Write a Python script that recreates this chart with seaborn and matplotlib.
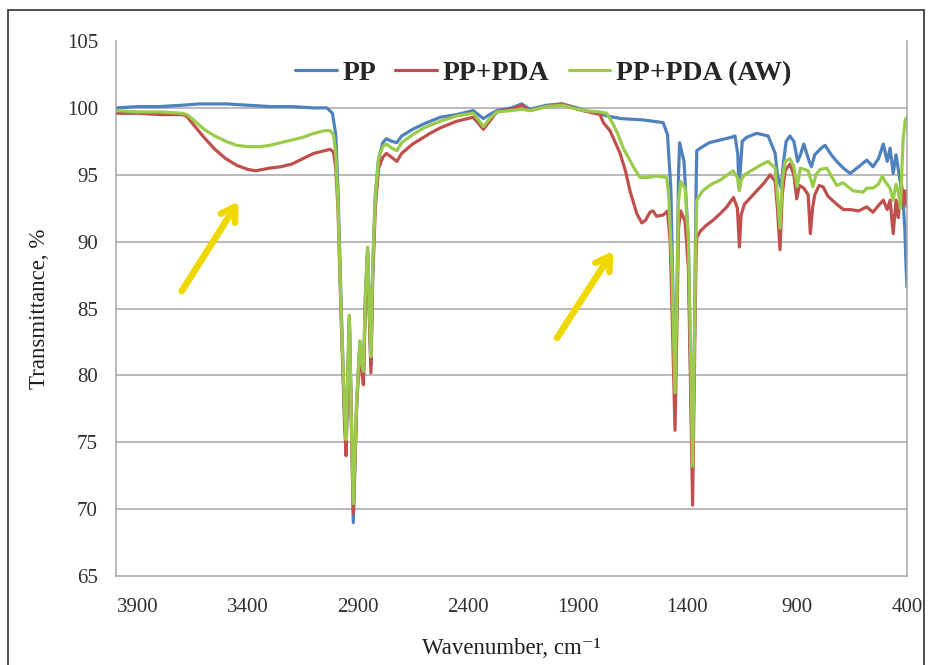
# FTIR spectra of PP, PP+PDA and PP+PDA (AW)
import pandas as pd
import matplotlib.pyplot as plt
import seaborn as sns
from matplotlib.patches import Rectangle

# PP (blue)
pp_wn = [4000, 3900, 3800, 3700, 3620, 3500, 3400, 3300, 3200, 3100, 3040, 3015, 3000, 2990,
         2975, 2960, 2953, 2945, 2938, 2930, 2920, 2905, 2890, 2880, 2874, 2865, 2855, 2848,
         2840, 2832, 2820, 2805, 2786, 2770, 2745, 2722, 2700, 2650, 2600, 2525, 2450, 2374,
         2328, 2300, 2267, 2200, 2154, 2117, 2040, 1971, 1900, 1873, 1800, 1767, 1700, 1600,
         1510, 1490, 1475, 1465, 1456, 1447, 1440, 1435, 1415, 1395, 1385, 1376, 1368, 1360,
         1357, 1340, 1300, 1251, 1200, 1183, 1170, 1165, 1158, 1150, 1130, 1084, 1032, 1000,
         990, 973, 962, 950, 933, 915, 898, 885, 870, 845, 835, 820, 790, 773, 745, 720, 690,
         659, 620, 583, 555, 530, 508, 490, 477, 463, 450, 432, 420, 410, 404, 400]
pp_t = [100.0, 100.1, 100.1, 100.2, 100.3, 100.3, 100.2, 100.1, 100.1, 100.0, 100.0, 99.6, 98.0, 94.0,
        85.0, 77.0, 74.5, 80.0, 84.3, 78.0, 69.0, 78.0, 82.5, 80.5, 80.0, 86.0, 89.5, 85.0,
        80.8, 88.0, 93.5, 96.2, 97.4, 97.7, 97.5, 97.4, 97.9, 98.4, 98.8, 99.3, 99.5, 99.8,
        99.2, 99.5, 99.8, 100.0, 100.3, 99.9, 100.2, 100.3, 100.0, 99.8, 99.6, 99.4, 99.2, 99.1,
        98.9, 98.0, 94.0, 86.0, 78.6, 86.0, 95.0, 97.4, 96.0, 90.0, 80.0, 73.0, 82.0, 94.0,
        96.8, 97.0, 97.4, 97.6, 97.8, 97.9, 96.5, 94.0, 95.5, 97.5, 97.8, 98.1, 97.9, 96.6,
        95.0, 94.0, 96.0, 97.5, 97.9, 97.5, 96.0, 96.5, 97.3, 96.0, 95.6, 96.5, 97.0, 97.2, 96.5, 96.0, 95.5,
        95.1, 95.6, 96.1, 95.6, 96.2, 97.3, 96.0, 97.0, 95.1, 96.5, 94.6, 93.5, 91.0, 88.0, 86.6]

# PP+PDA (red)
pda_wn = [4000, 3900, 3800, 3700, 3680, 3640, 3600, 3550, 3500, 3450, 3400, 3363, 3300, 3250,
          3200, 3150, 3100, 3050, 3026, 3010, 3000, 2990, 2975, 2960, 2953, 2945, 2938, 2930,
          2920, 2905, 2890, 2880, 2874, 2865, 2855, 2848, 2840, 2832, 2820, 2805, 2786, 2770,
          2745, 2722, 2700, 2650, 2600, 2571, 2525, 2450, 2374, 2328, 2300, 2267, 2200, 2154,
          2117, 2040, 1971, 1900, 1873, 1797, 1782, 1752, 1730, 1706, 1680, 1661, 1630, 1607,
          1590, 1570, 1556, 1540, 1509, 1490, 1478, 1468, 1456, 1447, 1440, 1430, 1410, 1395,
          1385, 1376, 1368, 1360, 1357, 1340, 1315, 1283, 1250, 1220, 1190, 1172, 1163, 1155,
          1140, 1084, 1050, 1023, 1000, 990, 978, 968, 955, 933, 915, 902, 890, 870, 850, 840,
          830, 820, 800, 782, 760, 720, 690, 659, 620, 583, 555, 530, 508, 490, 477, 463, 450,
          440, 425, 415, 408, 400]
pda_t = [99.6, 99.6, 99.5, 99.5, 99.4, 98.6, 97.8, 96.9, 96.2, 95.7, 95.4, 95.3, 95.5, 95.6,
         95.8, 96.2, 96.6, 96.8, 96.9, 96.7, 95.5, 92.5, 84.0, 76.5, 74.0, 80.0, 84.0, 77.0,
         69.7, 77.5, 82.3, 80.0, 79.3, 85.5, 89.2, 85.0, 80.2, 87.0, 92.5, 95.5, 96.3, 96.6,
         96.3, 96.0, 96.6, 97.3, 97.8, 98.1, 98.5, 99.0, 99.3, 98.4, 99.0, 99.7, 99.9, 100.2,
         99.8, 100.1, 100.3, 99.9, 99.8, 99.5, 98.9, 98.3, 97.5, 96.6, 95.2, 93.8, 92.1, 91.4,
         91.6, 92.2, 92.3, 91.9, 92.0, 92.3, 90.0, 84.0, 75.9, 84.0, 91.0, 92.3, 91.5, 88.0,
         79.0, 70.3, 80.0, 89.0, 90.3, 90.8, 91.2, 91.6, 92.1, 92.6, 93.3, 92.5, 89.6, 92.0,
         92.8, 93.8, 94.4, 95.0, 94.5, 92.5, 89.4, 93.5, 95.3, 95.8, 95.0, 93.2, 94.2, 94.0, 93.5, 90.6,
         92.5, 93.5, 94.2, 94.1, 93.4, 92.8, 92.4, 92.4, 92.3, 92.6, 92.2, 92.7, 93.1, 92.4, 93.1, 90.6, 93.1,
         91.8, 94.3, 92.8, 93.8, 92.6]

# PP+PDA (AW) (green)
aw_wn = [4000, 3900, 3800, 3700, 3677, 3640, 3600, 3550, 3500, 3450, 3400, 3345, 3300, 3250,
         3200, 3150, 3100, 3050, 3026, 3010, 3000, 2990, 2975, 2960, 2953, 2945, 2938, 2930,
         2920, 2905, 2890, 2880, 2874, 2865, 2855, 2848, 2840, 2832, 2820, 2805, 2786, 2770,
         2745, 2722, 2700, 2650, 2600, 2525, 2450, 2374, 2328, 2300, 2267, 2200, 2154, 2117,
         2040, 1971, 1900, 1873, 1800, 1767, 1738, 1715, 1692, 1665, 1646, 1615, 1580, 1539,
         1494, 1485, 1470, 1456, 1447, 1440, 1430, 1410, 1395, 1385, 1376, 1368, 1360, 1357,
         1330, 1290, 1250, 1192, 1172, 1163, 1155, 1140, 1069, 1032, 1000, 990, 978, 968, 955,
         933, 915, 900, 885, 850, 828, 815, 796, 765, 720, 691, 645, 600, 583, 555, 530, 512,
         500, 477, 463, 450, 440, 430, 418, 408, 400]
aw_t = [99.8, 99.7, 99.7, 99.6, 99.5, 99.0, 98.4, 97.9, 97.5, 97.2, 97.1, 97.1, 97.2, 97.4,
        97.6, 97.8, 98.1, 98.3, 98.3, 98.0, 96.5, 93.0, 84.5, 77.5, 75.2, 80.5, 84.5, 77.5,
        70.4, 78.0, 82.6, 80.7, 80.3, 86.0, 89.6, 85.5, 81.4, 88.0, 93.2, 96.3, 97.1, 97.3,
        97.0, 96.8, 97.4, 98.0, 98.5, 99.0, 99.4, 99.6, 98.6, 99.2, 99.7, 99.8, 99.9, 99.8,
        100.1, 100.2, 99.9, 99.8, 99.7, 99.6, 98.8, 98.0, 97.0, 96.2, 95.6, 94.8, 94.8, 94.9,
        94.8, 93.5, 88.0, 78.7, 86.0, 93.0, 94.5, 94.0, 90.0, 82.0, 73.2, 82.0, 91.0, 93.1,
        93.8, 94.3, 94.6, 95.3, 94.8, 93.8, 94.6, 95.0, 95.7, 96.0, 95.5, 93.5, 91.0, 94.5, 96.0,
        96.2, 95.6, 94.1, 95.5, 95.3, 94.1, 95.0, 95.4, 95.5, 94.2, 94.4, 93.8, 93.7, 94.0, 94.0, 94.3, 94.9,
        94.5, 94.0, 93.1, 94.3, 93.8, 92.5, 97.6, 99.1, 99.3]

series_names = ['PP', 'PP+PDA', 'PP+PDA (AW)']
series_colors = ['#4F81BD', '#C0504D', '#9BCB4A']

x_ticks = [3900, 3400, 2900, 2400, 1900, 1400, 900, 400]
y_ticks = [65, 70, 75, 80, 85, 90, 95, 100, 105]

# yellow arrows (tail -> head) in data coords
arrow_1 = ((3701, 86.3), (3443, 93.0))
arrow_2 = ((1993, 82.8), (1738, 89.3))

sns.set_theme(style='white')
plt.rcParams['font.family'] = ['Liberation Serif', 'DejaVu Serif']

df = pd.concat([
    pd.DataFrame({'wn': pp_wn, 'T': pp_t, 'sample': series_names[0]}),
    pd.DataFrame({'wn': pda_wn, 'T': pda_t, 'sample': series_names[1]}),
    pd.DataFrame({'wn': aw_wn, 'T': aw_t, 'sample': series_names[2]}),
])

fig = plt.figure(figsize=(9.32, 6.65), dpi=100)
ax = fig.add_axes([0.1245, 0.1338, 0.8487, 0.8045])

sns.lineplot(data=df, x='wn', y='T', hue='sample', hue_order=series_names,
             palette=series_colors, estimator=None, linewidth=2.3, ax=ax)

ax.set_xlim(4000, 400)
ax.set_ylim(65, 105)
ax.set_xticks(x_ticks)
ax.set_yticks(y_ticks)
ax.tick_params(axis='x', direction='out', length=5, width=1, colors='#A0A0A0',
               labelcolor='#303030', labelsize=15, pad=11)
ax.tick_params(axis='y', length=0, labelsize=15, pad=13, labelcolor='#303030')

for yv in y_ticks[1:-1]:
    ax.axhline(yv, color='#A6A6A6', linewidth=1.1, zorder=0)

ax.spines['top'].set_visible(False)
for side in ['left', 'bottom', 'right']:
    ax.spines[side].set_color('#A6A6A6')
    ax.spines[side].set_linewidth(1.1)

ax.set_xlabel('Wavenumber, cm\u207b\u00b9', fontsize=16.5, labelpad=15, color='#202020')
ax.set_ylabel('Transmittance, %', fontsize=16.5, labelpad=12, color='#202020')

for tail, head in [arrow_1, arrow_2]:
    ax.annotate('', xy=head, xytext=tail,
                arrowprops=dict(arrowstyle='->,head_length=0.8,head_width=0.5',
                                color='#EED800', lw=4.8, shrinkA=0, shrinkB=0,
                                capstyle='round', joinstyle='round'))

ax.legend(loc='center', bbox_to_anchor=(0.54, 0.94), ncol=3, frameon=False,
          prop={'weight': 'bold', 'size': 20}, handlelength=1.5, handletextpad=0.2,
          columnspacing=0.7)

fig.patches.append(Rectangle((8 / 932, -0.05), 916 / 932, 1.05 - 10 / 665,
                             transform=fig.transFigure, fill=False,
                             edgecolor='#303030', linewidth=1.2))

plt.savefig('out.png', dpi=100)
